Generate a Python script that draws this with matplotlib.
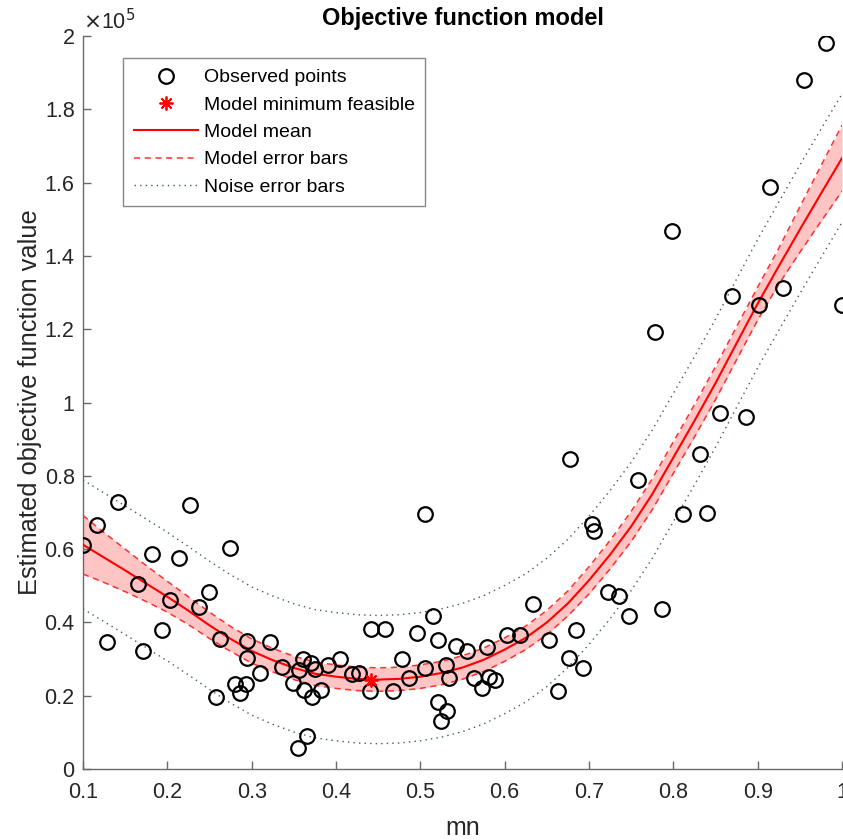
import numpy as np
import matplotlib
matplotlib.use("Agg")
import matplotlib.pyplot as plt

plt.rcParams['font.family'] = ['Liberation Sans', 'DejaVu Sans']

# observed points (mn, objective / 1e5)
obs_x = [0.100, 0.116, 0.128, 0.141, 0.165, 0.171, 0.182, 0.194, 0.203, 0.214,
         0.227, 0.238, 0.249, 0.258, 0.262, 0.274, 0.280, 0.286, 0.293, 0.295,
         0.295, 0.310, 0.322, 0.336, 0.349, 0.355, 0.356, 0.361, 0.362, 0.366,
         0.370, 0.371, 0.375, 0.382, 0.390, 0.405, 0.419, 0.427, 0.440, 0.442,
         0.458, 0.468, 0.478, 0.487, 0.496, 0.505, 0.506, 0.515, 0.521, 0.521,
         0.524, 0.532, 0.530, 0.534, 0.542, 0.555, 0.564, 0.573, 0.579, 0.581,
         0.589, 0.603, 0.618, 0.633, 0.652, 0.663, 0.676, 0.678, 0.685, 0.693,
         0.704, 0.706, 0.723, 0.736, 0.747, 0.758, 0.778, 0.787, 0.798, 0.812,
         0.832, 0.840, 0.855, 0.870, 0.886, 0.901, 0.915, 0.930, 0.955, 0.981,
         1.000]
obs_y = [0.611, 0.666, 0.346, 0.729, 0.504, 0.323, 0.587, 0.379, 0.461, 0.575,
         0.720, 0.441, 0.483, 0.196, 0.356, 0.604, 0.231, 0.208, 0.231, 0.350,
         0.302, 0.261, 0.347, 0.279, 0.236, 0.056, 0.270, 0.299, 0.215, 0.090,
         0.288, 0.196, 0.272, 0.217, 0.283, 0.300, 0.258, 0.262, 0.214, 0.382,
         0.382, 0.214, 0.300, 0.249, 0.370, 0.695, 0.275, 0.417, 0.352, 0.182,
         0.131, 0.158, 0.284, 0.249, 0.336, 0.322, 0.249, 0.222, 0.334, 0.250,
         0.244, 0.367, 0.367, 0.449, 0.352, 0.213, 0.304, 0.846, 0.379, 0.275,
         0.668, 0.649, 0.482, 0.473, 0.417, 0.789, 1.193, 0.438, 1.468, 0.695,
         0.859, 0.700, 0.972, 1.291, 0.961, 1.266, 1.589, 1.313, 1.880, 1.980,
         1.266]

min_x = [0.442]
min_y = [0.243]

# model curves
grid_x = [0.100, 0.125, 0.150, 0.175, 0.200, 0.225, 0.250, 0.275, 0.300, 0.325,
          0.350, 0.375, 0.400, 0.425, 0.450, 0.475, 0.500, 0.525, 0.550, 0.575,
          0.600, 0.625, 0.650, 0.675, 0.700, 0.725, 0.750, 0.775, 0.800, 0.825,
          0.850, 0.875, 0.900, 0.925, 0.950, 0.975, 1.000]
mean_y = [0.612, 0.577, 0.542, 0.506, 0.470, 0.432, 0.392, 0.355, 0.322, 0.297,
          0.276, 0.260, 0.252, 0.246, 0.244, 0.246, 0.252, 0.262, 0.277, 0.298,
          0.326, 0.358, 0.400, 0.452, 0.515, 0.585, 0.662, 0.750, 0.850, 0.950,
          1.053, 1.162, 1.270, 1.372, 1.472, 1.570, 1.667]
model_hi = [0.692, 0.645, 0.600, 0.555, 0.512, 0.470, 0.428, 0.389, 0.355, 0.329,
            0.308, 0.292, 0.284, 0.278, 0.276, 0.278, 0.284, 0.294, 0.309, 0.330,
            0.358, 0.390, 0.433, 0.486, 0.552, 0.624, 0.703, 0.792, 0.893, 0.994,
            1.098, 1.207, 1.315, 1.421, 1.534, 1.646, 1.757]
model_lo = [0.532, 0.509, 0.484, 0.457, 0.428, 0.394, 0.356, 0.321, 0.289, 0.265,
            0.244, 0.228, 0.220, 0.214, 0.212, 0.214, 0.220, 0.230, 0.245, 0.266,
            0.294, 0.326, 0.367, 0.418, 0.478, 0.546, 0.621, 0.708, 0.807, 0.906,
            1.008, 1.117, 1.225, 1.323, 1.410, 1.494, 1.577]
noise_hi = [0.789, 0.753, 0.718, 0.682, 0.646, 0.607, 0.567, 0.530, 0.497, 0.472,
            0.451, 0.435, 0.427, 0.421, 0.419, 0.421, 0.427, 0.437, 0.452, 0.473,
            0.501, 0.533, 0.575, 0.627, 0.690, 0.760, 0.837, 0.925, 1.025, 1.125,
            1.228, 1.337, 1.445, 1.547, 1.648, 1.746, 1.842]
noise_lo = [0.437, 0.402, 0.367, 0.331, 0.295, 0.257, 0.217, 0.180, 0.147, 0.122,
            0.101, 0.085, 0.077, 0.071, 0.069, 0.071, 0.077, 0.087, 0.102, 0.123,
            0.151, 0.183, 0.225, 0.277, 0.340, 0.410, 0.487, 0.575, 0.675, 0.775,
            0.878, 0.987, 1.095, 1.197, 1.297, 1.395, 1.492]

xticks = [0.1, 0.2, 0.3, 0.4, 0.5, 0.6, 0.7, 0.8, 0.9, 1.0]
yticks = [0, 0.2, 0.4, 0.6, 0.8, 1.0, 1.2, 1.4, 1.6, 1.8, 2.0]

fig = plt.figure(figsize=(8.43, 8.40), dpi=100)
ax = fig.add_axes([0.0985, 0.0845, 0.9003, 0.8725])

ax.fill_between(grid_x, model_lo, model_hi, color='#ffc4c4', lw=0, zorder=1)
h_obs, = ax.plot(obs_x, obs_y, 'o', ms=10.5, mfc='none', mec='black', mew=1.6,
                 label='Observed points', zorder=4)
h_min, = ax.plot(min_x, min_y, ls='none', marker=(8, 2, 0), ms=10, mec='red',
                 mew=1.3, label='Model minimum feasible', zorder=5)
h_mean, = ax.plot(grid_x, mean_y, color='red', lw=1.5, label='Model mean', zorder=3)
h_err, = ax.plot(grid_x, model_hi, color='#ff3030', lw=1.1, ls=(0, (4, 3)),
                 label='Model error bars', zorder=2)
ax.plot(grid_x, model_lo, color='#ff3030', lw=1.1, ls=(0, (4, 3)), zorder=2)
h_noise, = ax.plot(grid_x, noise_hi, color='#3f5c5c', lw=1.0, ls=(0, (1, 3)),
                   label='Noise error bars', zorder=2)
ax.plot(grid_x, noise_lo, color='#3f5c5c', lw=1.0, ls=(0, (1, 3)), zorder=2)

ax.set_xlim(0.1, 1.0)
ax.set_ylim(0, 2.0)
ax.set_xticks(xticks)
ax.set_xticklabels(['%g' % v for v in xticks])
ax.set_yticks(yticks)
ax.set_yticklabels(['%g' % v for v in yticks])

for s in ['top', 'right']:
    ax.spines[s].set_visible(False)
for s in ['left', 'bottom']:
    ax.spines[s].set_color('#6a6a6a')
    ax.spines[s].set_linewidth(1.0)
ax.tick_params(direction='in', length=5.5, width=1.0, color='#6a6a6a',
               labelsize=15.5, labelcolor='#262626')
ax.tick_params(axis='x', pad=9)
ax.tick_params(axis='y', pad=6)

ax.text(0.0, 1.003, r'$\times$10$^5$', transform=ax.transAxes, fontsize=15.5,
        color='#262626', ha='left', va='bottom')

ax.set_title('Objective function model', fontsize=17, fontweight='bold', pad=8)
ax.set_xlabel('mn', fontsize=18, color='#262626', labelpad=10)
ax.set_ylabel('Estimated objective function value', fontsize=18.3, color='#262626',
              labelpad=2)

leg = ax.legend(handles=[h_obs, h_min, h_mean, h_err, h_noise], loc='upper left',
                bbox_to_anchor=(0.0527, 0.970), fontsize=14, frameon=True,
                fancybox=False, edgecolor='#6a6a6a', handlelength=3.3,
                handletextpad=0.3, labelspacing=0.5, borderpad=0.55,
                borderaxespad=0)
leg.get_frame().set_linewidth(1.0)

fig.savefig('out.png', dpi=100)
